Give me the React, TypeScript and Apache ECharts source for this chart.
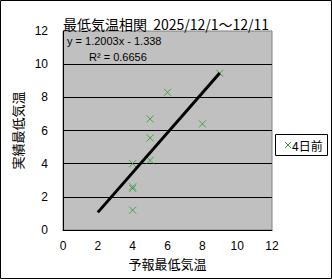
import React, { useEffect, useRef } from "react";
import * as echarts from "echarts";

const titleText = "最低気温相関  2025/12/1～12/11";
const xAxisName = "予報最低気温";
const yAxisName = "実績最低気温";
const seriesName = "4日前";
const forecast = [9, 6, 5, 8, 5, 5, 4, 4, 4, 4];
const actual = [9.45, 8.3, 6.7, 6.4, 5.55, 4.2, 4.0, 2.6, 2.5, 1.2];
const slope = 1.2003;
const intercept = -1.338;
const trendX = [2, 9];
const equationText = "y = 1.2003x - 1.338";
const r2Text = "R² = 0.6656";

const GREEN = "#2e9a2e";
const CROSS = "path://M0,0L10,10M10,0L0,10";

export default function App() {
  const ref = useRef<HTMLDivElement>(null);
  useEffect(() => {
    document.body.style.margin = "0";
    const chart = echarts.init(ref.current!, null, { renderer: "svg" });
    const pts = forecast.map((x, i) => [x, actual[i]]);
    const trend = trendX.map((x) => [x, slope * x + intercept]);
    chart.setOption({
      animation: false,
      backgroundColor: "#ffffff",
      title: {
        text: titleText,
        left: 161,
        top: 12,
        textAlign: "center",
        textStyle: {
          fontFamily: "Noto Sans CJK JP",
          fontSize: 14,
          fontWeight: "normal",
          color: "#000",
        },
      },
      legend: { show: false },
      grid: {
        left: 63,
        top: 31,
        right: 60,
        bottom: 49,
        show: true,
        backgroundColor: "#c0c0c0",
        borderColor: "#808080",
        borderWidth: 1,
      },
      xAxis: {
        type: "value",
        min: 0,
        max: 12,
        interval: 2,
        name: xAxisName,
        nameLocation: "middle",
        nameGap: 26,
        nameTextStyle: { fontFamily: "Noto Sans CJK JP", fontSize: 13, color: "#000" },
        axisLine: { show: true, lineStyle: { color: "#000", width: 1 } },
        axisTick: { show: false },
        axisLabel: { margin: 10, fontFamily: "Liberation Sans", fontSize: 12, color: "#000" },
        splitLine: { show: false },
      },
      yAxis: {
        type: "value",
        min: 0,
        max: 12,
        interval: 2,
        name: yAxisName,
        nameLocation: "middle",
        nameGap: 30,
        nameRotate: 90,
        nameTextStyle: { fontFamily: "Noto Sans CJK JP", fontSize: 13, color: "#000" },
        axisLine: { show: true, lineStyle: { color: "#000", width: 1 } },
        axisTick: { show: false },
        axisLabel: { margin: 15, fontFamily: "Liberation Sans", fontSize: 12, color: "#000" },
        splitLine: {
          show: true,
          showMinLine: false,
          showMaxLine: false,
          lineStyle: { color: "#000", width: 1 },
        },
      },
      series: [
        {
          name: seriesName,
          type: "scatter",
          data: pts,
          symbol: CROSS,
          symbolSize: 7,
          itemStyle: { color: "transparent", borderColor: GREEN, borderWidth: 1 },
          z: 3,
        },
        {
          name: "trend",
          type: "line",
          data: trend,
          symbol: "none",
          lineStyle: { color: "#000", width: 3 },
          z: 4,
        },
      ],
      graphic: [
        {
          type: "rect",
          shape: { x: 0.5, y: 0.5, width: 331, height: 278 },
          style: { fill: "none", stroke: "#000", lineWidth: 1 },
          silent: true,
        },
        {
          type: "text",
          left: 67,
          top: 35,
          style: { text: equationText, font: "11px 'Liberation Sans'", fill: "#000" },
          z: 10,
        },
        {
          type: "text",
          left: 89,
          top: 51,
          style: { text: r2Text, font: "11px 'Liberation Sans'", fill: "#000" },
          z: 10,
        },
        {
          type: "group",
          left: 275,
          top: 134,
          z: 10,
          children: [
            {
              type: "rect",
              shape: { x: 0.5, y: 0.5, width: 52, height: 21 },
              style: { fill: "#fff", stroke: "#000", lineWidth: 1 },
            },
            {
              type: "line",
              shape: { x1: 10, y1: 8, x2: 16, y2: 14 },
              style: { stroke: GREEN, lineWidth: 1 },
            },
            {
              type: "line",
              shape: { x1: 16, y1: 8, x2: 10, y2: 14 },
              style: { stroke: GREEN, lineWidth: 1 },
            },
            {
              type: "text",
              x: 17,
              y: 11.5,
              style: {
                text: seriesName,
                font: "12px 'Noto Sans CJK JP'",
                fill: "#000",
                verticalAlign: "middle",
                align: "left",
              },
            },
          ],
        },
      ],
    });
    return () => chart.dispose();
  }, []);
  return <div ref={ref} style={{ width: 332, height: 279 }} />;
}
